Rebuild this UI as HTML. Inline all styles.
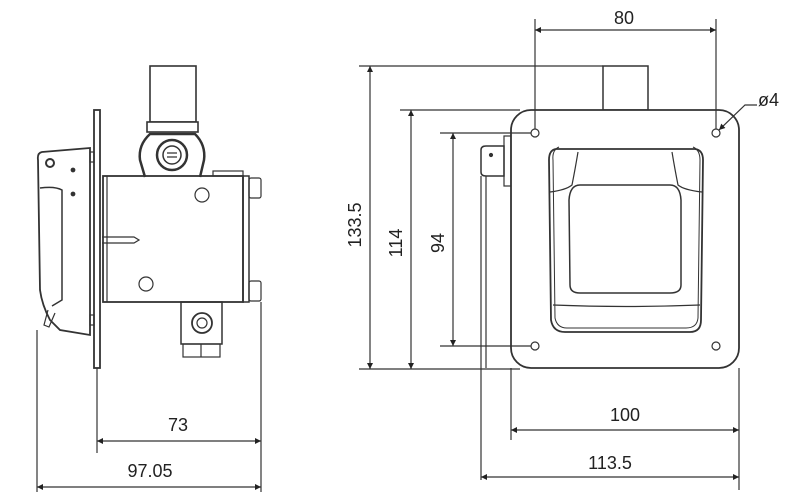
<!DOCTYPE html>
<html><head><meta charset="utf-8"><style>
html,body{margin:0;padding:0;background:#fff;width:800px;height:501px;overflow:hidden}
text{font-family:"Liberation Sans",Arial,sans-serif;font-size:18px;fill:#222}
</style></head><body>
<svg width="800" height="501" viewBox="0 0 800 501" xmlns="http://www.w3.org/2000/svg">
<defs>
<marker id="a" viewBox="0 0 10 10" refX="10" refY="5" markerWidth="9" markerHeight="6" orient="auto-start-reverse" markerUnits="userSpaceOnUse"><path d="M0,0 L10,5 L0,10 z" fill="#222"/></marker>
</defs>
<g stroke="#333" stroke-width="1.2" fill="none">
<rect x="150" y="66" width="46" height="56" fill="#fff" stroke-width="1.6"/>
<rect x="147" y="122" width="51" height="10" fill="#fff" stroke-width="1.6"/>
<path d="M145,177 L140,160 Q138,145 150,134 L195,134 Q206,145 204,160 L200,177" stroke-width="2.5"/>
<circle cx="172" cy="155" r="15" stroke-width="2.5"/>
<circle cx="172" cy="155" r="9" stroke-width="1.5"/>
<path d="M167,153h10M167,157h10"/>
<rect x="94" y="110" width="6" height="258" stroke-width="1.8"/>
<rect x="103" y="176" width="140" height="126" stroke-width="1.8"/>
<line x1="107" y1="176" x2="107" y2="302"/>
<rect x="243" y="176" width="6" height="126" stroke-width="1.5"/>
<rect x="249" y="178" width="12" height="20" rx="2"/>
<rect x="249" y="281" width="12" height="20" rx="2"/>
<rect x="213" y="171" width="30" height="5"/>
<circle cx="202" cy="195" r="7"/>
<circle cx="146" cy="284" r="7"/>
<path d="M102,237 H134 L139,240 L134,243 H102"/>
<path d="M90,148 L42,152 Q37,153 38,160 L40,290 Q42,305 50,320 L60,330 L90,335 Z" stroke-width="1.8"/>
<path d="M40,188 Q55,186 62,190 L62,300 L52,306" stroke-width="1.5"/>
<path d="M48,310 L44,325 L49,327 L55,313"/>
<circle cx="50" cy="163" r="4" stroke-width="2"/>
<circle cx="73" cy="170" r="1.8" fill="#333"/>
<circle cx="73" cy="194" r="1.8" fill="#333"/>
<rect x="90" y="152" width="4" height="10"/>
<rect x="90" y="315" width="4" height="10"/>
<rect x="181" y="302" width="41" height="42" stroke-width="1.5"/>
<circle cx="202" cy="323" r="10" stroke-width="1.8"/>
<circle cx="202" cy="323" r="5"/>
<rect x="183" y="344" width="37" height="13"/>
<line x1="201" y1="344" x2="201" y2="357"/>
<line x1="37" y1="330" x2="37" y2="492"/>
<line x1="97" y1="368" x2="97" y2="453"/>
<line x1="261" y1="302" x2="261" y2="492"/>
<line x1="97" y1="441" x2="261" y2="441" marker-start="url(#a)" marker-end="url(#a)"/>
<line x1="37" y1="487" x2="261" y2="487" marker-start="url(#a)" marker-end="url(#a)"/>
<rect x="603" y="66" width="45" height="44" stroke-width="1.5"/>
<path d="M486,146 H504 V176 H486 Q481,176 481,172 V150 Q481,146 486,146 Z" stroke-width="1.5"/>
<circle cx="491" cy="155" r="1.5" fill="#333"/>
<rect x="504" y="136" width="7" height="50"/>
<line x1="481" y1="176" x2="481" y2="480"/>
<line x1="486" y1="176" x2="486" y2="368"/>
<rect x="511" y="110" width="228" height="258" rx="20" stroke-width="1.8" fill="#fff"/>
<circle cx="535" cy="133" r="4"/><circle cx="716" cy="133" r="4"/>
<circle cx="535" cy="346" r="4"/><circle cx="716" cy="346" r="4"/>
<path d="M556,149 Q549,150 549,160 L551,320 Q553,332 565,332 L690,332 Q701,332 701,320 L703,160 Q703,150 695,149 Z" stroke-width="1.8"/>
<path d="M559,147 Q552,150 553,160 L555,318 Q557,328 567,328 L686,328 Q697,328 698,318 L700,160 Q700,150 693,147" stroke-width="1"/>
<path d="M578,152 Q575,170 572,185 Q566,190 550,192"/>
<path d="M672,152 Q675,170 678,185 Q684,190 702,192"/>
<path d="M580,185 H670 Q680,185 681,200 L681,285 Q681,293 670,293 H580 Q570,293 570,285 L569,200 Q570,185 580,185 Z" stroke-width="1.5"/>
<path d="M553,305 Q625,308 700,305"/>
<line x1="535" y1="19" x2="535" y2="129"/>
<line x1="716" y1="19" x2="716" y2="129"/>
<line x1="535" y1="30" x2="716" y2="30" marker-start="url(#a)" marker-end="url(#a)"/>
<line x1="359" y1="66" x2="603" y2="66"/>
<line x1="400" y1="110" x2="520" y2="110"/>
<line x1="440" y1="133" x2="531" y2="133"/>
<line x1="440" y1="346" x2="531" y2="346"/>
<line x1="359" y1="369" x2="520" y2="369"/>
<line x1="370" y1="66" x2="370" y2="369" marker-start="url(#a)" marker-end="url(#a)"/>
<line x1="411" y1="110" x2="411" y2="369" marker-start="url(#a)" marker-end="url(#a)"/>
<line x1="453" y1="133" x2="453" y2="346" marker-start="url(#a)" marker-end="url(#a)"/>
<line x1="511" y1="368" x2="511" y2="440"/>
<line x1="739" y1="368" x2="739" y2="490"/>
<line x1="511" y1="430" x2="739" y2="430" marker-start="url(#a)" marker-end="url(#a)"/>
<line x1="481" y1="477" x2="739" y2="477" marker-start="url(#a)" marker-end="url(#a)"/>
<path d="M719,130 L745,105 H757" marker-start="url(#a)"/>
</g>
<text x="178" y="431" text-anchor="middle">73</text>
<text x="150" y="477" text-anchor="middle">97.05</text>
<text x="624" y="24" text-anchor="middle">80</text>
<text x="625" y="421" text-anchor="middle">100</text>
<text x="610" y="469" text-anchor="middle">113.5</text>
<text x="758" y="106">ø4</text>
<text transform="translate(361,225) rotate(-90)" text-anchor="middle">133.5</text>
<text transform="translate(402,243) rotate(-90)" text-anchor="middle">114</text>
<text transform="translate(444,243) rotate(-90)" text-anchor="middle">94</text>
</svg>
</body></html>
